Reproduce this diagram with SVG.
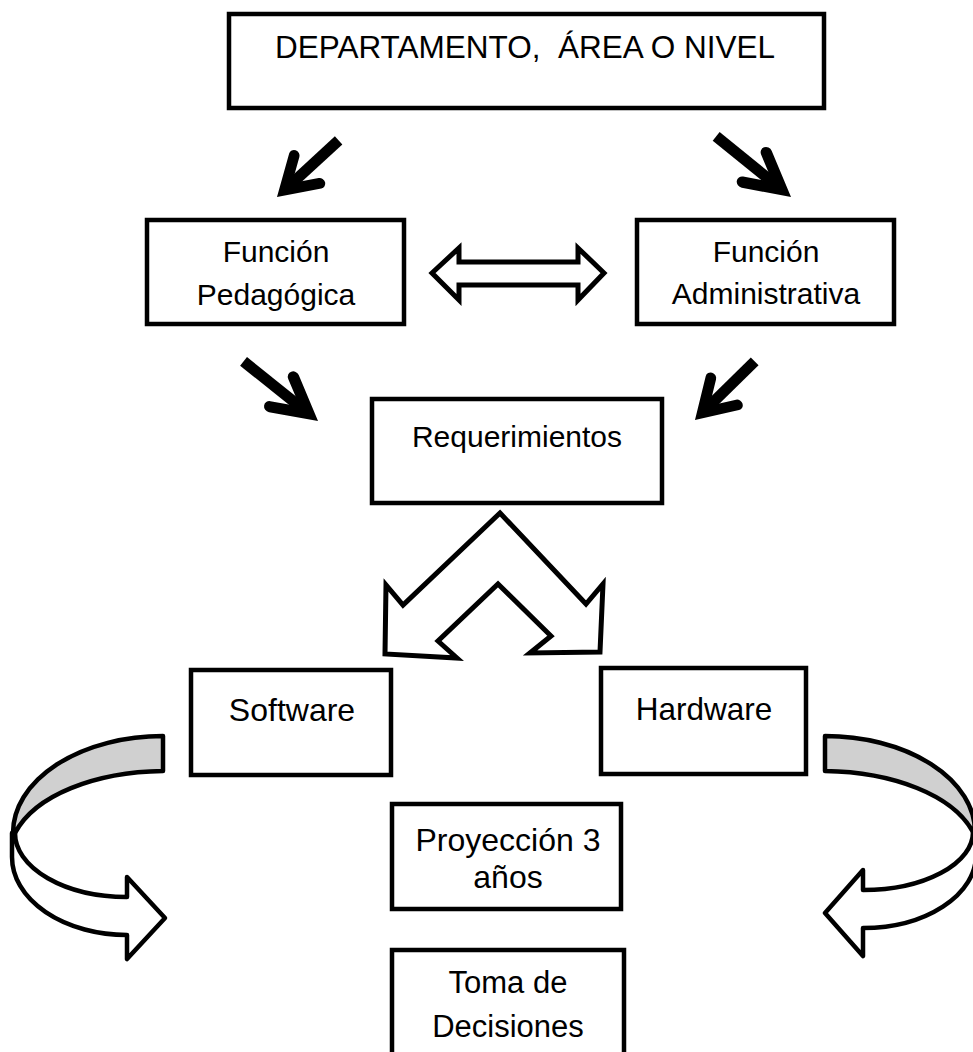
<svg xmlns="http://www.w3.org/2000/svg" width="973" height="1052" viewBox="0 0 973 1052">
<defs>
<style>
.box{fill:#fff;stroke:#000;stroke-width:4.5}
.t{font-family:"Liberation Sans",Arial,sans-serif;fill:#000;text-anchor:middle}
.shaft{stroke:#000;stroke-width:11;fill:none;stroke-linecap:butt}
.head{stroke:#000;stroke-width:11;fill:none;stroke-linecap:round;stroke-linejoin:miter;stroke-miterlimit:10}
.block{fill:#fff;stroke:#000;stroke-width:5;stroke-linejoin:miter}
.ribbon{fill:#fff;stroke:#000;stroke-width:4.5;stroke-linejoin:round}
.ribbon-g{fill:#d0d0d0;stroke:#000;stroke-width:4.5;stroke-linejoin:round}
</style>
<g id="thick-arrow">
<line class="shaft" x1="-90" y1="0" x2="-14" y2="0"/>
<polyline class="head" points="-44,-19 -11,0 -44,19"/>
</g>
</defs>

<g id="connectors">
<use href="#thick-arrow" transform="translate(277,197) rotate(137.4) scale(0.93,1)"/>
<use href="#thick-arrow" transform="translate(791,197) rotate(39) scale(1.07,1)"/>
<use href="#thick-arrow" transform="translate(318,421) rotate(38.7) scale(1.06,1)"/>
<use href="#thick-arrow" transform="translate(695,420) rotate(135.5) scale(0.93,1)"/>
<polygon class="block" points="432,273 459,248 459,262 578,262 578,248 604,273 578,300 578,285 459,285 459,300"/>
<polygon class="block" points="500,513 586,604 603,584 600,652 530,653 551,636 498,584 438,641 457,658 385,654 386,585 403,605"/>
<g id="curve-left">
<path class="ribbon" d="M15,833 A112,64 0 0 0 127,897 L127,877 L165,918 L127,959 L127,935 A115,78 0 0 1 12,857 L12,833 Z"/>
<path class="ribbon-g" d="M163,736 A150,97 0 0 0 13,833 L15,833 C35,795 95,772 163,771 Z"/>
</g>
<g id="curve-right">
<path class="ribbon" d="M973,832 A110,58 0 0 1 863,890 L863,870 L825,913 L863,956 L863,928 A113,73 0 0 0 976,855 L976,832 Z"/>
<path class="ribbon-g" d="M825,736 A150,96 0 0 1 975,832 L973,832 C953,795 893,772 825,771 Z"/>
</g>
</g>

<g id="node-departamento">
<rect class="box" x="229" y="14" width="595" height="94"/>
<text class="t" x="275" y="58" font-size="31.5" style="text-anchor:start;white-space:pre" xml:space="preserve">DEPARTAMENTO,  ÁREA O NIVEL</text>
</g>
<g id="node-pedagogica">
<rect class="box" x="147" y="220" width="257" height="104"/>
<text class="t" x="276" y="262" font-size="30">Función</text>
<text class="t" x="276" y="305" font-size="30">Pedagógica</text>
</g>
<g id="node-administrativa">
<rect class="box" x="637" y="220" width="257" height="104"/>
<text class="t" x="766" y="262" font-size="30">Función</text>
<text class="t" x="766" y="304" font-size="30">Administrativa</text>
</g>
<g id="node-requerimientos">
<rect class="box" x="372" y="399" width="290" height="104"/>
<text class="t" x="517" y="447" font-size="30">Requerimientos</text>
</g>
<g id="node-software">
<rect class="box" x="191" y="670" width="200" height="105"/>
<text class="t" x="292" y="721" font-size="32">Software</text>
</g>
<g id="node-hardware">
<rect class="box" x="601" y="668" width="205" height="106"/>
<text class="t" x="704" y="720" font-size="31.5">Hardware</text>
</g>
<g id="node-proyeccion">
<rect class="box" x="392" y="804" width="229" height="105"/>
<text class="t" x="508" y="851" font-size="32">Proyección 3</text>
<text class="t" x="508" y="888" font-size="32">años</text>
</g>
<g id="node-toma">
<rect class="box" x="392" y="950" width="232" height="112"/>
<text class="t" x="508" y="993" font-size="31">Toma de</text>
<text class="t" x="508" y="1037" font-size="31">Decisiones</text>
</g>
</svg>
